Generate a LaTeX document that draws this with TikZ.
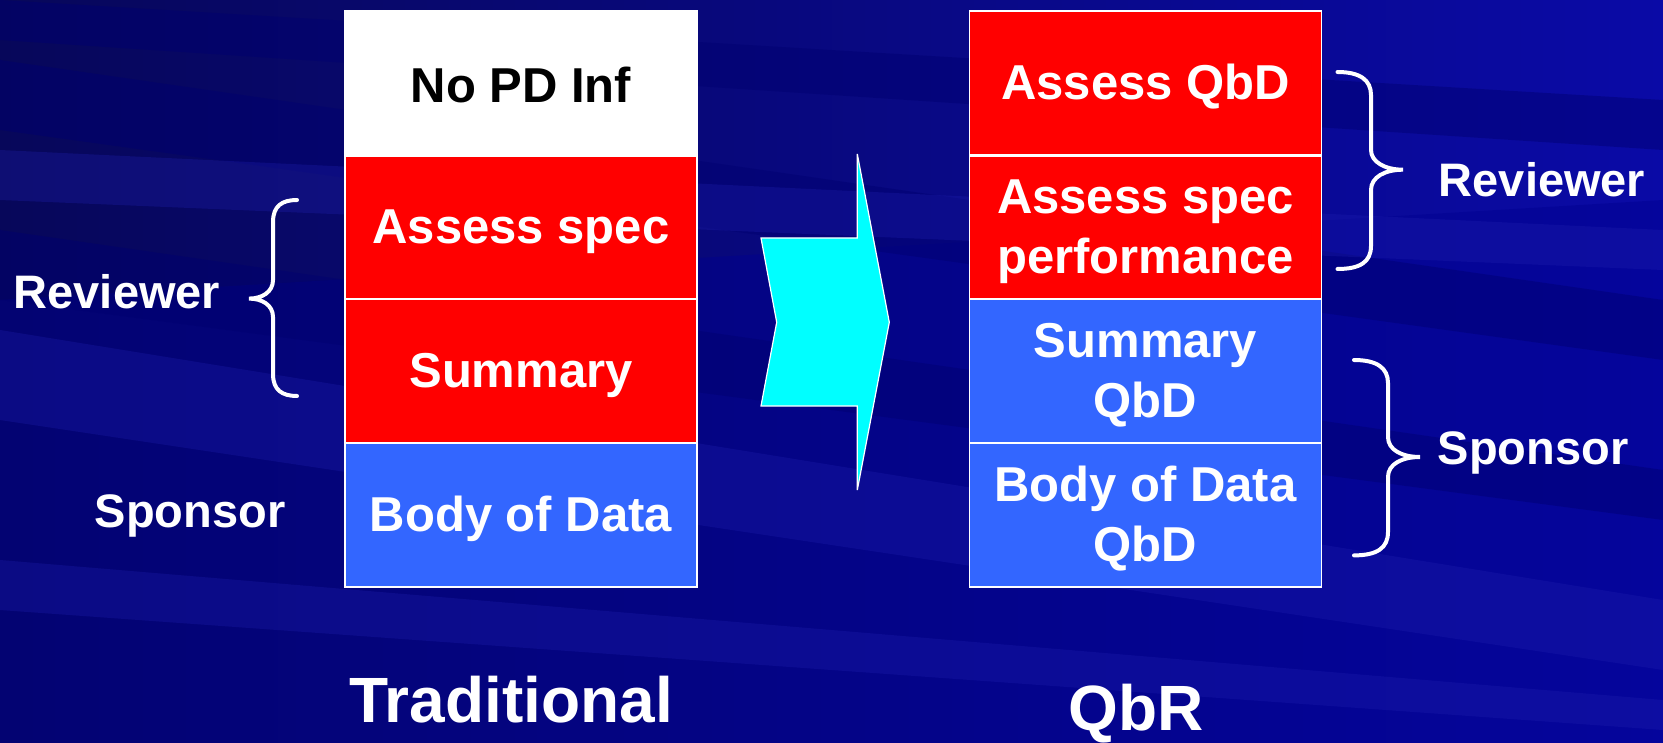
\documentclass[tikz,border=0pt]{standalone}
\usepackage{fontspec}
\setmainfont{Liberation Sans}
\definecolor{bgdark}{HTML}{07075A}
\definecolor{bgmid}{HTML}{000090}
\definecolor{bglight}{HTML}{0A0AA6}
\definecolor{streakdark}{HTML}{000070}
\definecolor{streaklight}{HTML}{2020B0}
\definecolor{boxred}{HTML}{FF0000}
\definecolor{boxblue}{HTML}{3366FF}
\definecolor{arrowcyan}{HTML}{00FFFF}
\tikzset{
  cell/.style={draw=white, line width=1.5pt, minimum width=352pt, minimum height=144pt, inner sep=0pt},
  cellR/.style={cell, fill=boxred},
  cellB/.style={cell, fill=boxblue},
  cellW/.style={cell, fill=white},
  celltext/.style={font=\fontsize{49}{60}\selectfont\bfseries, align=center, text=white, inner sep=0pt, yshift=-4pt},
  sidelabel/.style={font=\fontsize{47}{56}\selectfont\bfseries, text=white, inner sep=0pt},
  title/.style={font=\fontsize{64}{72}\selectfont\bfseries, text=white, inner sep=0pt},
  bracket/.style={draw=white, line width=4pt, line cap=round},
  streakD/.style={fill=streakdark, opacity=0.45},
  streakL/.style={fill=streaklight, opacity=0.3}
}
\begin{document}
\begin{tikzpicture}[x=1pt,y=-1pt]
\useasboundingbox (0,0) rectangle (1663,743);
% background
\shade[left color=bgdark, right color=bglight] (0,0) rectangle (1663,743);
\fill[bgmid, opacity=0.45] (0,300) -- (1663,200) -- (1663,743) -- (0,743) -- cycle;
% streaks
\fill[streakD] (0,60) -- (1663,300) -- (1663,360) -- (0,130) -- cycle;
\fill[streakD] (0,230) -- (1663,470) -- (1663,520) -- (0,300) -- cycle;
\fill[streakL] (0,330) -- (1663,600) -- (1663,670) -- (0,420) -- cycle;
\fill[streakL] (0,150) -- (1663,230) -- (1663,270) -- (0,200) -- cycle;
\fill[streakD] (0,0) -- (1663,100) -- (1663,150) -- (0,40) -- cycle;
\fill[streakL] (0,560) -- (1663,700) -- (1663,730) -- (0,610) -- cycle;
% left column
\node[cellW] (nopd) at (521,83) {};
\node[cellR] (aspec) at (521,228) {};
\node[cellR] (summ) at (521,371) {};
\node[cellB] (body) at (521,515) {};
\node[celltext, text=black, yshift=2pt] (nopdT) at (nopd.center) {No PD Inf};
\node[celltext] (aspecT) at (aspec.center) {Assess spec};
\node[celltext] (summT) at (summ.center) {Summary};
\node[celltext] (bodyT) at (body.center) {Body of Data};
% right column
\node[cellR] (aqbd) at (1145.5,83) {};
\node[cellR] (aperf) at (1145.5,228) {};
\node[cellB] (sqbd) at (1145.5,371) {};
\node[cellB] (bqbd) at (1145.5,515) {};
\node[celltext] (aqbdT) at (aqbd.center) {Assess QbD};
\node[celltext] (aperfT) at (aperf.center) {Assess spec\\performance};
\node[celltext] (sqbdT) at (sqbd.center) {Summary\\QbD};
\node[celltext] (bqbdT) at (bqbd.center) {Body of Data\\QbD};
% labels
\node[sidelabel] (revL) at (117,292) {Reviewer};
\node[sidelabel] (sponL) at (190,516) {Sponsor};
\node[sidelabel] (revR) at (1542,180) {Reviewer};
\node[sidelabel] (sponR) at (1533,453) {Sponsor};
\node[title] (trad) at (511,700) {Traditional};
\node[title] (qbr) at (1136,714) {QbR};
% arrow
\draw[draw=white, line width=1.2pt, fill=arrowcyan, line join=miter]
  (761,238) -- (857.3,238) -- (857.3,154) -- (889.3,322.3) -- (857.3,490) -- (857.3,406) -- (761,406) -- (776.7,322.3) -- cycle;
% left brace (tip left)
\draw[bracket] (297,200) .. controls (282,200) and (273,206) .. (273,222) -- (273,280)
  .. controls (273,292) and (262,298.6) .. (249,298.6)
  .. controls (262,298.6) and (273,305) .. (273,317) -- (273,374)
  .. controls (273,390) and (282,396) .. (297,396);
% right reviewer brace (tip right)
\draw[bracket] (1337.5,72) .. controls (1360,72) and (1371,80) .. (1371,95) -- (1371,150)
  .. controls (1371,162) and (1385,169.7) .. (1403,169.7)
  .. controls (1385,169.7) and (1371,177) .. (1371,190) -- (1371,246)
  .. controls (1371,262) and (1360,269) .. (1337.5,269);
% right sponsor brace (tip right)
\draw[bracket] (1354,360) .. controls (1377,360) and (1388,368) .. (1388,383) -- (1388,437)
  .. controls (1388,450) and (1402,457) .. (1420,457)
  .. controls (1402,457) and (1388,464) .. (1388,477) -- (1388,532)
  .. controls (1388,548) and (1377,555.4) .. (1354,555.4);
\end{tikzpicture}
\end{document}
